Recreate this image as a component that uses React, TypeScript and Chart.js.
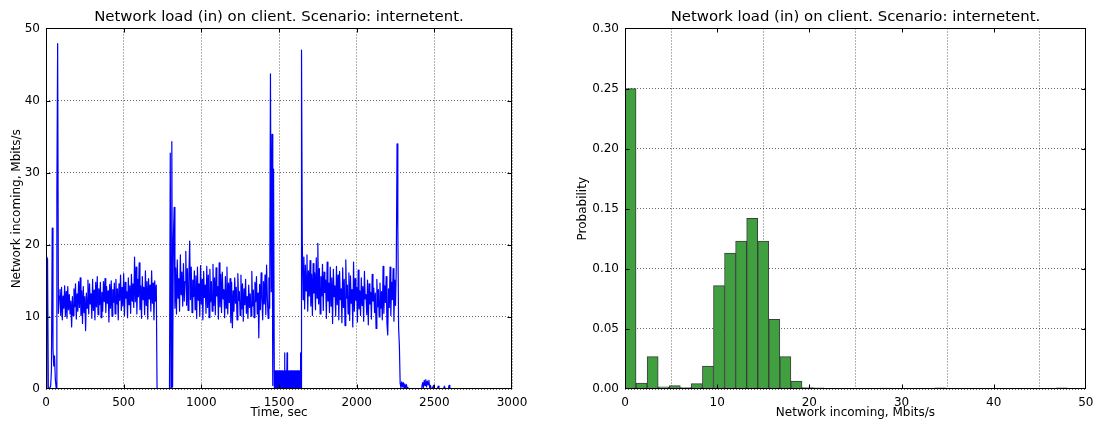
import React, { useEffect, useRef } from "react";
import { Chart, registerables } from "chart.js";

Chart.register(...registerables);

// ---------- Left panel: network load time series ----------
// Each run of samples has a start time (s) and sample step (s).
const HEAD_START = 0;
const HEAD_STEP = 5;
const loadHead = [0, 18.3, 18.0, 0, 0, 0, 0.4, 2.6, 22.3, 5.5, 3.2, 4.6, 1.4, 0.2, 27.5, 47.9, 10.5];

const RUN1_START = 85;
const RUN1_STEP = 5;
const loadRun1 = [
  12.9, 13.8, 10.2, 14.1, 9.6, 12.9, 11.2, 14.3, 10.1, 13.5, 9.8, 14.2, 11.0, 13.1, 10.4, 12.2, 8.6, 12.8, 10.2, 13.9, 11.4, 14.6, 9.7, 13.2,
  10.8, 14.9, 11.3, 15.4, 10.2, 13.6, 9.1, 14.2, 10.6, 12.8, 8.1, 13.3, 11.2, 15.1, 10.4, 14.6, 11.8, 13.2, 9.8, 15.2, 10.9, 13.7, 9.6, 14.8,
  11.4, 15.6, 10.3, 13.9, 11.7, 14.8, 9.9, 13.4, 10.8, 14.9, 12.1, 15.3, 10.6, 14.2, 11.9, 13.6, 9.3, 14.5, 11.2, 15.0, 10.1, 13.8, 12.0, 14.7,
  10.4, 15.2, 11.8, 13.9, 9.6, 14.6, 12.3, 15.8, 10.9, 14.1, 11.5, 16.0, 10.2, 14.8, 12.6, 13.5, 9.9, 15.4, 11.7, 14.3, 10.5, 15.9, 12.2, 14.6,
  11.3, 18.3, 12.1, 16.9, 10.4, 15.2, 12.8, 17.5, 11.0, 14.3, 9.8, 15.6, 12.4, 14.1, 10.3, 16.4, 11.6, 14.9, 9.7, 15.3, 12.5, 14.4, 10.8, 16.4, 11.9, 14.7, 9.6, 15.0, 12.2, 14.4,
];

const GAP1_START = 715;
const GAP1_STEP = 5;
const loadGap1 = [0, 0, 0, 0, 0, 0, 0, 0, 0, 0, 0, 0, 0, 0, 0, 0, 0];

const BURST2_START = 800;
const BURST2_STEP = 5;
const loadBurst2 = [32.7, 0, 34.3, 0.3, 21.0, 25.2];

const RUN2_START = 830;
const RUN2_STEP = 5;
const loadRun2 = [
  11.2, 16.8, 10.4, 17.9, 12.6, 15.3, 10.8, 18.6, 13.1, 16.2, 11.5, 17.4, 12.2, 14.9, 19.1, 11.6, 16.7, 10.9, 15.8, 20.5, 12.4, 16.9, 10.6, 15.1, 12.8,
  16.4, 11.0, 15.7, 9.8, 16.9, 12.3, 14.6, 10.1, 17.1, 11.8, 15.2, 9.6, 16.3, 12.7, 14.4, 10.5, 17.0, 11.3, 15.8, 9.9, 16.6, 12.1, 14.9, 10.8, 17.3,
  11.6, 15.4, 10.3, 16.8, 12.9, 14.2, 9.7, 17.5, 11.4, 15.9, 10.6, 16.2, 12.5, 13.8, 9.9, 15.6, 11.2, 16.9, 10.4, 14.7, 12.0, 15.3, 9.2, 14.8, 8.5,
  13.6, 10.8, 15.4, 11.9, 14.1, 9.6, 16.0, 12.3, 13.5, 10.2, 15.8, 11.1, 14.6, 9.4, 13.9, 11.7, 15.2, 10.5, 12.8, 9.8, 14.4, 11.3, 13.2, 10.1, 16.3,
  11.5, 13.7, 9.9, 14.8, 12.1, 15.6, 10.4, 13.3, 7.1, 14.5, 11.0, 16.1, 12.4, 9.6, 14.9, 11.8, 15.8, 10.3, 17.2, 12.6, 9.8, 15.4, 11.2,
];

const BURST3_START = 1445;
const BURST3_STEP = 5;
const loadBurst3 = [43.7, 13.5, 35.3, 0.5, 30.5, 0];

const IDLE_START = 1472;
const IDLE_STEP = 2;
const loadIdle = [
  2.5, 0, 2.5, 0, 2.5, 0, 2.5, 0, 2.5, 0,
  2.5, 0, 2.5, 0, 2.5, 0, 2.5, 0, 2.5, 0,
  2.5, 0, 2.5, 0, 2.5, 0, 2.5, 0, 2.5, 0,
  2.5, 0, 5.0, 0, 2.5, 0, 2.5, 0, 2.5, 0,
  5.0, 0, 2.5, 0, 2.5, 0, 2.5, 0, 2.5, 0,
  2.5, 0, 2.5, 0, 2.5, 0, 2.5, 0, 2.5, 0,
  2.5, 0, 2.5, 0, 2.5, 0, 2.5, 0, 2.5, 0,
  2.5, 0, 2.5, 0, 2.5, 0, 2.5, 0, 2.5, 0,
  2.5, 0, 2.5, 0, 5.0, 0,
];

const BURST4_START = 1645;
const BURST4_STEP = 5;
const loadBurst4 = [47.0, 20.5];

const RUN3_START = 1655;
const RUN3_STEP = 5;
const loadRun3 = [
  12.4, 18.3, 11.1, 17.2, 13.6, 18.6, 10.8, 16.4, 12.9, 17.8, 11.5, 15.9, 10.2, 17.4, 13.3, 16.1, 11.0, 18.2, 12.6, 20.2, 11.8, 16.7, 10.4, 15.6, 12.9,
  17.3, 10.9, 16.2, 13.4, 15.1, 9.8, 17.6, 12.2, 14.7, 10.6, 16.9, 11.5, 15.4, 9.1, 16.6, 12.8, 14.3, 10.1, 17.0, 11.7, 15.8, 9.6, 16.3, 12.4, 13.9,
  9.2, 16.8, 11.3, 15.2, 8.8, 17.9, 12.6, 14.4, 10.4, 16.1, 9.5, 15.7, 11.9, 13.8, 8.6, 17.6, 10.8, 15.3, 12.3, 14.1, 9.3, 16.5, 11.1, 13.6, 10.2,
  15.4, 11.6, 14.2, 9.4, 16.3, 12.5, 13.1, 10.3, 15.1, 8.9, 14.6, 11.8, 13.4, 9.7, 15.9, 12.2, 14.0, 10.6, 13.3, 8.4, 15.2, 11.4, 13.8, 10.0, 14.7,
  11.2, 13.5, 9.6, 17.0, 10.5, 14.3, 12.0, 15.6, 9.1, 7.5, 13.9, 11.3, 16.9, 10.2, 14.8, 12.4, 16.7, 9.4, 15.1, 11.6, 16.8,
];

const TAIL_START = 2260;
const TAIL_STEP = 5;
const loadTail = [
  34.0, 22.5, 8.5, 6.0, 0.8, 0.2, 1.0, 0.3, 0.9, 0.1, 0.7, 0, 0.6, 0.2, 0,
  0, 0, 0, 0, 0, 0, 0, 0, 0, 0, 0, 0, 0, 0, 0, 0, 0,
  0.4, 0.9, 0.2, 1.2, 0.5, 1.3, 0.3, 1.1, 0.6, 1.2, 0.2, 0.5,
  0, 0, 0, 0.5, 0, 0, 0, 0, 0, 0.4, 0, 0, 0, 0, 0, 0, 0, 0.4, 0, 0, 0, 0, 0, 0.5, 0, 0, 0, 0, 0,
];

const TIME_MAX = 3000;
const TIME_TICK_STEP = 500;
const LOAD_MAX = 50;
const LOAD_TICK_STEP = 10;

// ---------- Right panel: histogram (40 bins over 0..48 Mbit/s) ----------
const HIST_BIN_WIDTH = 1.2;
const histProbabilities = [
  0.25, 0.005, 0.027, 0.0018, 0.0028, 0.0012, 0.0045, 0.019, 0.086, 0.113,
  0.123, 0.142, 0.123, 0.058, 0.027, 0.0065, 0.0012, 0.001, 0.0005, 0,
  0, 0.0004, 0.0004, 0.0008, 0, 0.0005, 0, 0.0004, 0.0009, 0.0005,
  0, 0, 0.0005, 0, 0, 0, 0.0005, 0, 0, 0.0009,
];
const INCOMING_MAX = 50;
const INCOMING_TICK_STEP = 10;
const PROB_MAX = 0.3;
const PROB_TICK_STEP = 0.05;

const TITLE = "Network load (in) on client. Scenario: internetent.";
const FONT = "'DejaVu Sans', 'Liberation Sans', sans-serif";
const GRID_COLOR = "rgba(0,0,0,0.6)";

const framePlugin = {
  id: "mplFrame",
  afterDraw(chart: any) {
    const { ctx, chartArea: a, scales } = chart;
    const L = Math.round(a.left) + 0.5;
    const R = Math.round(a.right) - 0.5;
    const T = Math.round(a.top) + 0.5;
    const B = Math.round(a.bottom) - 0.5;
    ctx.save();
    ctx.strokeStyle = "#000";
    ctx.lineWidth = 1;
    ctx.setLineDash([]);
    ctx.beginPath();
    const tl = 4;
    const xs = scales.x;
    xs.ticks.forEach((t: any) => {
      const p = Math.round(xs.getPixelForValue(t.value)) + 0.5;
      if (p <= L + 1 || p >= R - 1) return;
      ctx.moveTo(p, B);
      ctx.lineTo(p, B - tl);
      ctx.moveTo(p, T);
      ctx.lineTo(p, T + tl);
    });
    const ys = scales.y;
    ys.ticks.forEach((t: any) => {
      const p = Math.round(ys.getPixelForValue(t.value)) + 0.5;
      if (p <= T + 1 || p >= B - 1) return;
      ctx.moveTo(L, p);
      ctx.lineTo(L + tl, p);
      ctx.moveTo(R, p);
      ctx.lineTo(R - tl, p);
    });
    ctx.stroke();
    ctx.strokeRect(L, T, R - L, B - T);
    ctx.restore();
  },
};

function baseTitle() {
  return {
    display: true,
    text: TITLE,
    color: "#000",
    fullSize: false,
    font: { family: FONT, size: 14.9, weight: "normal" as const },
    padding: { top: 8.3, bottom: 2.3 },
  };
}

function xScale(max: number, step: number, label: string, fmt?: (v: number) => string) {
  return {
    type: "linear" as const,
    min: 0,
    max,
    offset: false,
    grid: { color: GRID_COLOR, lineWidth: 1, drawTicks: false },
    border: { display: false, dash: [1, 2] },
    ticks: {
      stepSize: step,
      color: "#000",
      padding: 6.5,
      maxRotation: 0,
      autoSkip: false,
      font: { family: FONT, size: 12 },
      callback: (v: any) => (fmt ? fmt(Number(v)) : String(v)),
    },
    title: {
      display: true,
      text: label,
      color: "#000",
      font: { family: FONT, size: 12 },
      padding: { top: 0, bottom: 1.2 },
    },
    afterFit: (s: any) => {
      s.height = 32;
    },
  };
}

function yScale(max: number, step: number, label: string, width: number, titlePad: number, fmt?: (v: number) => string) {
  return {
    type: "linear" as const,
    min: 0,
    max,
    grid: { color: GRID_COLOR, lineWidth: 1, drawTicks: false },
    border: { display: false, dash: [1, 2] },
    ticks: {
      stepSize: step,
      color: "#000",
      padding: 6,
      autoSkip: false,
      font: { family: FONT, size: 12 },
      callback: (v: any) => (fmt ? fmt(Number(v)) : String(v)),
    },
    title: {
      display: true,
      text: label,
      color: "#000",
      font: { family: FONT, size: 12 },
      padding: { top: titlePad, bottom: 0 },
    },
    afterFit: (s: any) => {
      s.width = width;
    },
  };
}

function toPoints(start: number, step: number, values: number[]) {
  return values.map((v, i) => ({ x: start + i * step, y: v }));
}

export default function App() {
  const leftRef = useRef<HTMLCanvasElement>(null);
  const rightRef = useRef<HTMLCanvasElement>(null);

  useEffect(() => {
    const points = [
      ...toPoints(HEAD_START, HEAD_STEP, loadHead),
      ...toPoints(RUN1_START, RUN1_STEP, loadRun1),
      ...toPoints(GAP1_START, GAP1_STEP, loadGap1),
      ...toPoints(BURST2_START, BURST2_STEP, loadBurst2),
      ...toPoints(RUN2_START, RUN2_STEP, loadRun2),
      ...toPoints(BURST3_START, BURST3_STEP, loadBurst3),
      ...toPoints(IDLE_START, IDLE_STEP, loadIdle),
      ...toPoints(BURST4_START, BURST4_STEP, loadBurst4),
      ...toPoints(RUN3_START, RUN3_STEP, loadRun3),
      ...toPoints(TAIL_START, TAIL_STEP, loadTail),
    ];

    const left = new Chart(leftRef.current as HTMLCanvasElement, {
      type: "line",
      data: {
        datasets: [
          {
            data: points,
            borderColor: "#0000ff",
            borderWidth: 1.2,
            pointRadius: 0,
            fill: false,
            tension: 0,
            borderJoinStyle: "round",
          } as any,
        ],
      },
      options: {
        responsive: false,
        animation: false,
        devicePixelRatio: 1,
        layout: { padding: { left: 0, right: 38, top: 0, bottom: 0 } },
        plugins: {
          legend: { display: false },
          tooltip: { enabled: false },
          title: baseTitle(),
        },
        scales: {
          x: xScale(TIME_MAX, TIME_TICK_STEP, "Time, sec"),
          y: yScale(LOAD_MAX, LOAD_TICK_STEP, "Network incoming, Mbits/s", 46, 9.8),
        } as any,
      },
      plugins: [framePlugin],
    });

    const bars = histProbabilities.map((p, k) => ({ x: (k + 0.5) * HIST_BIN_WIDTH, y: p }));
    const right = new Chart(rightRef.current as HTMLCanvasElement, {
      type: "bar",
      data: {
        datasets: [
          {
            data: bars,
            backgroundColor: "rgb(64,160,64)",
            borderColor: "rgb(60,60,60)",
            borderWidth: 1,
            borderSkipped: false,
            barPercentage: 1,
            categoryPercentage: 1,
          } as any,
        ],
      },
      options: {
        responsive: false,
        animation: false,
        devicePixelRatio: 1,
        layout: { padding: { left: 0, right: 8, top: 0, bottom: 0 } },
        plugins: {
          legend: { display: false },
          tooltip: { enabled: false },
          title: baseTitle(),
        },
        scales: {
          x: xScale(INCOMING_MAX, INCOMING_TICK_STEP, "Network incoming, Mbits/s"),
          y: yScale(PROB_MAX, PROB_TICK_STEP, "Probability", 75, 25.8, (v) => v.toFixed(2)),
        } as any,
      },
      plugins: [framePlugin],
    });

    return () => {
      left.destroy();
      right.destroy();
    };
  }, []);

  return (
    <div
      style={{
        position: "fixed",
        left: 0,
        top: 0,
        width: 1100,
        height: 421,
        background: "#fff",
        overflow: "hidden",
      }}
    >
      <canvas
        ref={leftRef}
        width={550}
        height={421}
        style={{ position: "absolute", left: 0, top: 0, width: 550, height: 421 }}
      />
      <canvas
        ref={rightRef}
        width={550}
        height={421}
        style={{ position: "absolute", left: 550, top: 0, width: 550, height: 421 }}
      />
    </div>
  );
}
